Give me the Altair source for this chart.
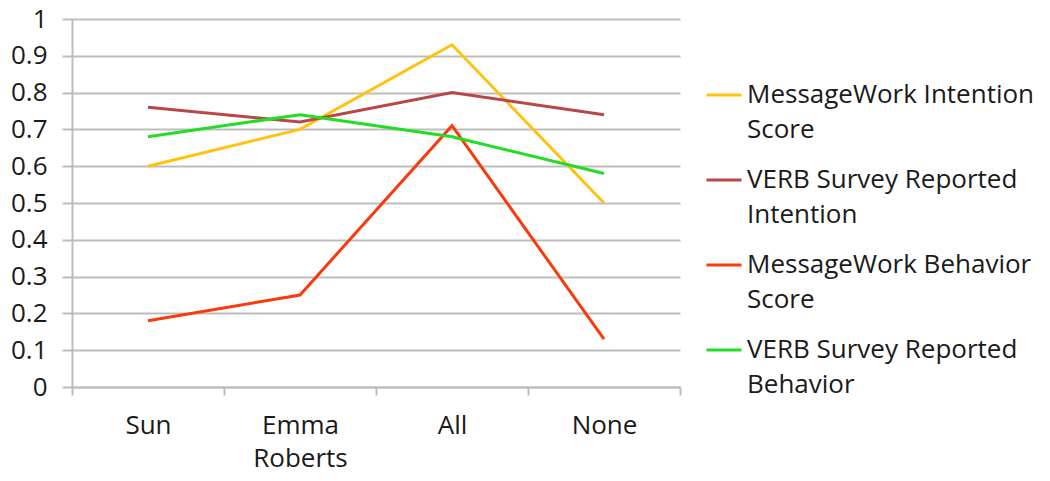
import altair as alt
import pandas as pd

categories = ["Sun", "Emma Roberts", "All", "None"]
series_names = [
    "MessageWork Intention Score",
    "VERB Survey Reported Intention",
    "MessageWork Behavior Score",
    "VERB Survey Reported Behavior",
]
mw_intention = [0.60, 0.70, 0.93, 0.50]
verb_intention = [0.76, 0.72, 0.80, 0.74]
mw_behavior = [0.18, 0.25, 0.71, 0.13]
verb_behavior = [0.68, 0.74, 0.68, 0.58]
colors = ["#FFC20E", "#B9474A", "#FA3A0C", "#22DD22"]

rows = []
for name, vals in zip(series_names, [mw_intention, verb_intention, mw_behavior, verb_behavior]):
    for c, v in zip(categories, vals):
        rows.append({"category": c, "value": v, "series": name})
df = pd.DataFrame(rows)

FONT = "Open Sans"
FS = 26
TXT = "#1a1a1a"
GRID = "#BDBDBD"

legend_expr = (
    "datum.label == 'MessageWork Intention Score' ? ['MessageWork Intention', 'Score'] : "
    "datum.label == 'VERB Survey Reported Intention' ? ['VERB Survey Reported', 'Intention'] : "
    "datum.label == 'MessageWork Behavior Score' ? ['MessageWork Behavior', 'Score'] : "
    "['VERB Survey Reported', 'Behavior']"
)

chart = alt.Chart(df).mark_line(strokeWidth=3).encode(
    x=alt.X(
        "category:N",
        sort=categories,
        scale=alt.Scale(type="band", domain=categories, paddingInner=0, paddingOuter=0),
        axis=alt.Axis(
            title=None,
            labelAngle=0,
            tickBand="extent",
            domainColor=GRID,
            domainWidth=2,
            tickColor=GRID,
            tickWidth=2,
            tickSize=8,
            labelPadding=17,
            labelFont=FONT,
            labelFontSize=FS,
            labelColor=TXT,
            labelLineHeight=33,
            labelBaseline="top",
            labelExpr="datum.label == 'Emma Roberts' ? ['Emma', 'Roberts'] : datum.label",
            grid=False,
        ),
    ),
    y=alt.Y(
        "value:Q",
        scale=alt.Scale(domain=[0, 1], nice=False),
        axis=alt.Axis(
            title=None,
            values=[i / 10 for i in range(11)],
            labelExpr="datum.value == 0 ? '0' : datum.value == 1 ? '1' : format(datum.value, '.1f')",
            grid=True,
            gridColor=GRID,
            gridWidth=2,
            domainColor=GRID,
            domainWidth=2,
            tickColor=GRID,
            tickWidth=2,
            tickSize=10,
            labelPadding=15,
            labelFont=FONT,
            labelFontSize=FS,
            labelColor=TXT,
        ),
    ),
    color=alt.Color(
        "series:N",
        sort=series_names,
        scale=alt.Scale(domain=series_names, range=colors),
        legend=alt.Legend(
            title=None,
            orient="none",
            legendX=633,
            legendY=57,
            symbolType="stroke",
            symbolStrokeWidth=3,
            symbolSize=1225,
            labelFont=FONT,
            labelFontSize=FS,
            labelColor=TXT,
            labelLimit=400,
            labelOffset=4,
            labelBaseline="middle",
            rowPadding=18,
            padding=0,
            labelExpr=legend_expr,
        ),
    ),
).properties(
    width=608,
    height=368,
    autosize=alt.AutoSizeParams(type="none"),
    padding={"left": 64, "top": 11, "right": 360, "bottom": 86},
).configure(
    background="white",
    style={"guide-label": {"lineHeight": 35}},
).configure_view(stroke=None)

chart.save("out.html", embed_options={"renderer": "svg", "actions": False})
